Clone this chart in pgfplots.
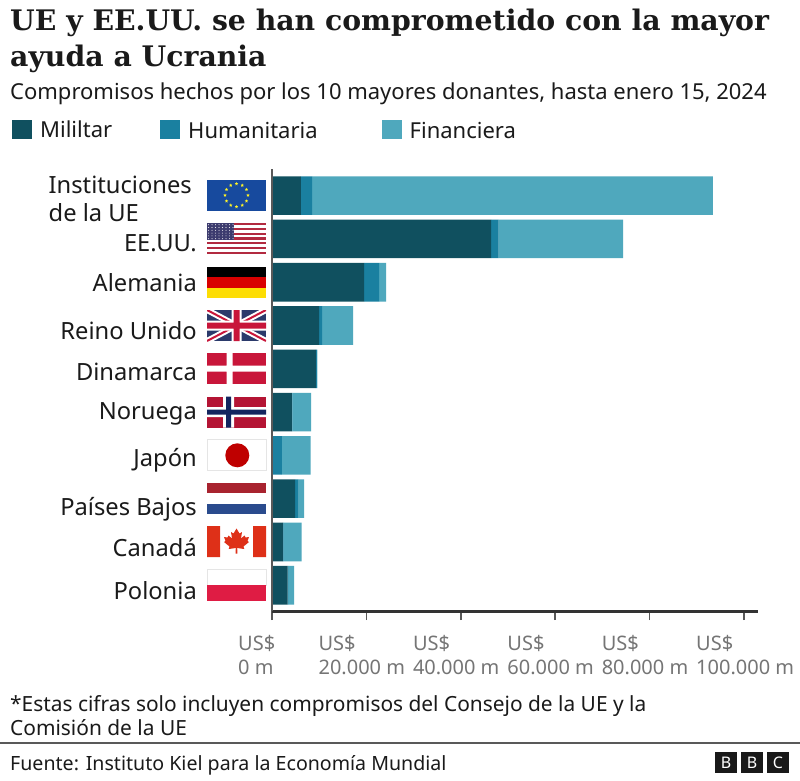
\documentclass[border=0pt]{standalone}
\usepackage{fontspec}
\usepackage{pgfplots}
\usepackage{pgfplotstable}
\pgfplotsset{compat=1.18}
\usetikzlibrary{shapes.geometric}
\setmainfont{Noto Sans}
\newfontfamily\titlefont{DejaVu Serif}

\definecolor{mil}{HTML}{10505F}
\definecolor{hum}{HTML}{1A80A0}
\definecolor{fin}{HTML}{4FA8BD}
\definecolor{ticktxt}{HTML}{757575}
\definecolor{txt}{HTML}{1A1A1A}

\newcommand{\fs}[1]{\fontsize{#1pt}{#1pt}\selectfont}
% row names sit a little below the bar centre in the original
\newcommand{\lift}[2]{\raisebox{-#1pt}[17pt][0pt]{#2}}

% pos 9 is the top row
\pgfplotstableread{
pos mil   hum  fin
9   6100  2400 84900
8   46400 1600 26400
7   19500 3200 1500
6   10000 600  6600
5   9300  200  100
4   4200  100  4000
3   100   2000 6100
2   4900  750  1150
1   2300  150  3850
0   3300  100  1300
}\donors

\begin{document}
\begin{tikzpicture}[x=1pt,y=-1pt]
\path[use as bounding box,fill=white] (0,0) rectangle (800,781);

% title block
\node[anchor=base west,inner sep=0pt,text=txt,font=\titlefont\bfseries\fs{28.3}] at (10,31) {UE y EE.UU. se han comprometido con la mayor};
\node[anchor=base west,inner sep=0pt,text=txt,font=\titlefont\bfseries\fs{28.3}] at (10,67) {ayuda a Ucrania};
\node[anchor=base west,inner sep=0pt,text=txt,font=\fs{22}] at (10,100) {Compromisos hechos por los 10 mayores donantes, hasta enero 15, 2024};

\begin{axis}[
    at={(272pt,-611pt)},anchor=south west,
    scale only axis,width=486pt,height=442pt,
    xbar stacked,bar width=38.6pt,
    xmin=0,xmax=102966,ymin=-0.594,ymax=9.615,
    axis x line*=bottom,axis y line*=left,
    axis on top,
    scaled x ticks=false,
    x axis line style={draw=black!80,line width=3pt},
    y axis line style={draw=black!65,line width=2pt},
    xtick={0,20000,40000,60000,80000,100000},
    xticklabels={{\kern14pt US\$\\\kern14pt 0 m},{US\$\\20.000 m},{US\$\\40.000 m},{US\$\\60.000 m},{US\$\\80.000 m},{US\$\\100.000 m}},
    x tick label style={align=left,anchor=north west,xshift=-48pt,yshift=-15pt,inner sep=0pt,text=ticktxt,font=\fontsize{20pt}{24pt}\selectfont},
    x tick style={draw=black!65,line width=1.5pt},
    major tick length=9pt,tick align=outside,xtick pos=bottom,
    ytick={0,...,9},
    yticklabels={\lift{6}{Polonia},\lift{6.5}{Canadá},\lift{8}{Países Bajos},\lift{3}{Japón},\lift{-1}{Noruega},\lift{3.5}{Dinamarca},\lift{5}{Reino Unido},\lift{1}{Alemania},\lift{4}{EE.UU.},{\rule{0pt}{24pt}Instituciones\kern5pt\\de la UE}},
    y tick label style={align=left,anchor=east,xshift=-66pt,inner sep=0pt,text=txt,font=\fontsize{23.7pt}{28pt}\selectfont},
    y tick style={draw=none},
    legend columns=3,legend cell align=left,
    legend image code/.code={\path[#1,draw=none] (0pt,-9.5pt) rectangle (20pt,9.5pt);\path (26pt,0pt);},
    legend style={at={(axis description cs:-0.535,1.115)},anchor=north west,draw=none,fill=none,inner sep=0pt,
        text=txt,font=\fs{22},
        /tikz/column 2/.style={column sep=46pt},
        /tikz/column 4/.style={column sep=62pt}},
]
\addplot[fill=mil,draw=none] table[x=mil,y=pos] {\donors};
\addplot[fill=hum,draw=none] table[x=hum,y=pos] {\donors};
\addplot[fill=fin,draw=none] table[x=fin,y=pos] {\donors};
\legend{Mililtar,\raisebox{-3pt}{Humanitaria},\raisebox{-4pt}{Financiera}}
\end{axis}

% flags
\definecolor{eub}{HTML}{174A9E}
\definecolor{usr}{HTML}{B22A40}
\definecolor{usb}{HTML}{3C3B6E}
\definecolor{dkr}{HTML}{C8163A}
\definecolor{ukb}{HTML}{2B3A6B}
\definecolor{nob}{HTML}{14255F}
\tikzset{edge/.style={draw=black!10,line width=0.8pt}}

\begin{scope}[shift={(236.5,195.3)}]% EU
\fill[eub] (-29.5,-15.5) rectangle (29.5,15.5);
\foreach \a in {0,30,...,330}
  \node[star,star points=5,star point ratio=2.3,fill=yellow!85!white,inner sep=0pt,minimum size=3.6pt] at ({11.5*cos(\a)},{11.5*sin(\a)}) {};
\end{scope}

\begin{scope}[shift={(236.5,238.5)}]% US
\fill[white] (-29.5,-15.5) rectangle (29.5,15.5);
\foreach \i in {0,2,...,12}
  \fill[usr] (-29.5,{-15.5+2.3846*\i}) rectangle (29.5,{-15.5+2.3846*(\i+1)});
\fill[usb] (-29.5,-15.5) rectangle (-2.5,1.2);
\foreach \i in {0,...,7} \foreach \j in {0,...,5}
  \fill[white!85!usb] ({-28+3.5*\i},{-13.8+2.8*\j}) circle (0.55);
\end{scope}

\begin{scope}[shift={(236.5,282.3)}]% Germany
\fill[black] (-29.5,-15.5) rectangle (29.5,-5.2);
\fill[red!85!black] (-29.5,-5.2) rectangle (29.5,5.2);
\fill[yellow!80!orange] (-29.5,5.2) rectangle (29.5,15.5);
\end{scope}

\begin{scope}[shift={(236.5,325.5)}]% UK
\begin{scope}
\clip (-29.5,-15.5) rectangle (29.5,15.5);
\fill[ukb] (-29.5,-15.5) rectangle (29.5,15.5);
\draw[white,line width=6pt] (-29.5,-15.5) -- (29.5,15.5) (-29.5,15.5) -- (29.5,-15.5);
\draw[dkr,line width=2pt] (-29.5,-15.5) -- (29.5,15.5) (-29.5,15.5) -- (29.5,-15.5);
\fill[white] (-5,-15.5) rectangle (5,15.5) (-29.5,-5) rectangle (29.5,5);
\fill[dkr] (-3,-15.5) rectangle (3,15.5) (-29.5,-3) rectangle (29.5,3);
\end{scope}
\end{scope}

\begin{scope}[shift={(236.5,368.5)}]% Denmark
\fill[dkr] (-29.5,-15.5) rectangle (29.5,15.5);
\fill[white] (-10,-15.5) rectangle (-4,15.5) (-29.5,-3) rectangle (29.5,3);
\end{scope}

\begin{scope}[shift={(236.5,412)}]% Norway
\fill[dkr!90!black] (-29.5,-15.5) rectangle (29.5,15.5);
\fill[white] (-13.5,-15.5) rectangle (-2.5,15.5) (-29.5,-5) rectangle (29.5,5);
\fill[nob] (-10.5,-15.5) rectangle (-5.5,15.5) (-29.5,-2.5) rectangle (29.5,2.5);
\end{scope}

\begin{scope}[shift={(236.5,455.3)}]% Japan
\filldraw[fill=white,edge] (-29.5,-15.5) rectangle (29.5,15.5);
\fill[red!75!black] (0.8,0) circle (12);
\end{scope}

\begin{scope}[shift={(236.5,498.7)}]% Netherlands
\definecolor{nlb}{HTML}{2A4B8D}
\definecolor{nlr}{HTML}{A8232F}
\fill[nlr] (-29.5,-15.5) rectangle (29.5,-5.5);
\fill[nlb] (-29.5,5.2) rectangle (29.5,15.5);
\end{scope}

\begin{scope}[shift={(236.5,541.5)}]% Canada
\definecolor{car}{HTML}{DE3018}
\fill[car] (-29.5,-15.5) rectangle (-16.5,15.5) (16.5,-15.5) rectangle (29.5,15.5);
\fill[car] (0,-13) -- (3,-8) -- (5.5,-9.5) -- (4.5,-3) -- (8,-6) -- (9,-4) -- (12.5,-4.5) -- (11,-0.5) -- (12.5,0.5) -- (7,5) -- (7.8,7.5) -- (0.7,6.5) -- (0.9,12) -- (-0.9,12) -- (-0.7,6.5) -- (-7.8,7.5) -- (-7,5) -- (-12.5,0.5) -- (-11,-0.5) -- (-12.5,-4.5) -- (-9,-4) -- (-8,-6) -- (-4.5,-3) -- (-5.5,-9.5) -- (-3,-8) -- cycle;
\end{scope}

\begin{scope}[shift={(236.5,585.3)}]% Poland
\definecolor{plr}{HTML}{DF1C44}
\filldraw[fill=white,edge] (-29.5,-15.5) rectangle (29.5,0);
\fill[plr] (-29.5,0) rectangle (29.5,15.5);
\end{scope}

% footer
\node[anchor=base west,inner sep=0pt,text=txt,font=\fs{20.9}] at (10,711) {*Estas cifras solo incluyen compromisos del Consejo de la UE y la};
\node[anchor=base west,inner sep=0pt,text=txt,font=\fs{20.9}] at (10,735) {Comisión de la UE};
\draw[black!65,line width=1.5pt] (0,743) -- (800,743);
\node[anchor=base west,inner sep=0pt,text=txt,font=\fs{19.6}] at (10,770) {Fuente: Instituto Kiel para la Economía Mundial};

% BBC blocks
\foreach \x/\l in {715/B,741/B,767/C} {
  \fill[black!90] (\x,752) rectangle (\x+22,773);
  \node[text=white,inner sep=0pt,font=\bfseries\fs{16}] at (\x+11,762.5) {\l};
}
\end{tikzpicture}
\end{document}
